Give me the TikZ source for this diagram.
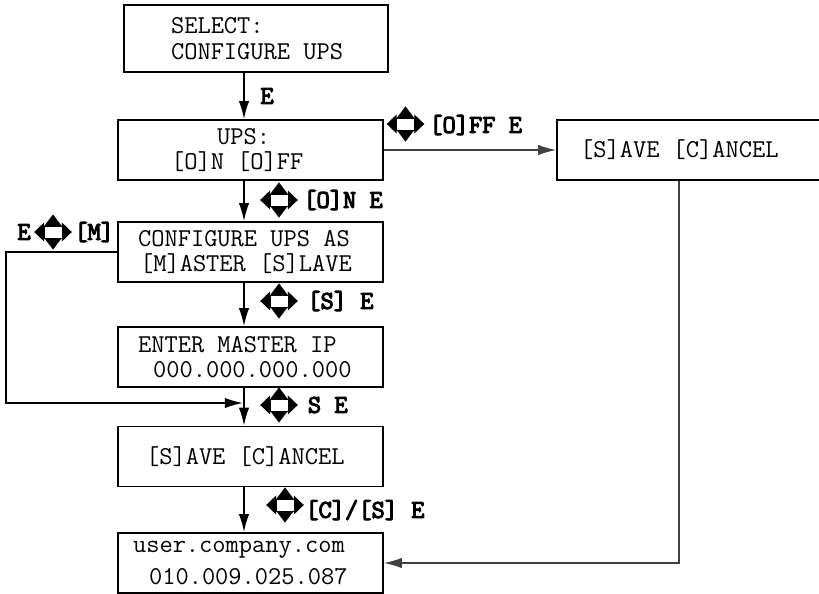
\documentclass[tikz,border=0pt]{standalone}
\usepackage{fontspec}
\newfontfamily\keyfont{lmmono12-regular.otf}[FakeBold=4]
\usepackage{tikz}
\usetikzlibrary{arrows.meta,positioning}
\newcommand{\ind}[1]{\hspace*{#1}}
\newcommand{\fixspace}{\spaceskip=\fontcharwd\font`\0\relax\xspaceskip=\spaceskip}

\begin{document}
\begin{tikzpicture}[
  font=\ttfamily\fontsize{18.3}{18}\selectfont,
  lcd/.style={draw, line width=1.3pt, align=left, inner xsep=2.5mm, inner ysep=0pt,
              text width=61.25mm, minimum height=15mm, execute at begin node=\fixspace},
  key/.style={font=\keyfont\fontsize{18.3}{18}\selectfont, inner sep=0pt},
  a/.style={line width=1.1pt, -{Latex[length=4.5mm,width=2.6mm]}},
  g/.style={line width=0.9pt, draw=black!75, -{Latex[length=4.5mm,width=2.6mm]}},
  pad/.pic={
    \fill (-0.22,0.15) -- (0.22,0.15) -- (0,0.44) -- cycle;
    \fill (-0.22,-0.15) -- (0.22,-0.15) -- (0,-0.44) -- cycle;
    \fill (-0.22,0.24) -- (-0.22,-0.24) -- (-0.47,0) -- cycle;
    \fill (0.22,0.24) -- (0.22,-0.24) -- (0.47,0) -- cycle;
    \filldraw[fill=white, line width=0.4pt] (-0.22,-0.15) rectangle (0.22,0.15);
  }
]
\useasboundingbox (0,0) rectangle (20.475,-14.825);
\clip (0,0) rectangle (20.475,-14.825);

% ---- screens ----
\node[lcd, text width=61mm, minimum height=16.75mm] (sel) at (6.4,-0.9625)
  {\ind{9.25mm}SELECT:\\\ind{9.25mm}CONFIGURE UPS};
\node[lcd] (ups)  at (6.2625,-3.75)    {\ind{22.25mm}UPS:\\\ind{10.75mm}[O]N [O]FF};
\node[lcd] (role) at (6.2625,-6.3)     {\ind{2.5mm}CONFIGURE UPS AS\\\ind{3mm}[M]ASTER [S]LAVE};
\node[lcd] (mip)  at (6.2625,-8.925)   {\ind{2.5mm}ENTER MASTER IP\\\ind{6.25mm}000.000.000.000};
\node[lcd] (save) at (6.2625,-11.4125) {\ind{4.5mm}[S]AVE [C]ANCEL};
\node[lcd] (done) at (6.2625,-14.075)  {\ind{1.25mm}user.company.com\\[5pt]\ind{5.25mm}010.009.025.087};
\node[lcd, text width=65.75mm] (offsave) at (17.4625,-3.75) {\ind{3.25mm}[S]AVE [C]ANCEL};

\coordinate (spine) at (6.1,0);
\coordinate (lx)    at (0.15,0);
\coordinate (join)  at (6.07,-10.075);
\coordinate (drop)  at (16.975,0);

% ---- main line ----
\draw[a] (sel.south -| spine)  -- node[key, right=3.9mm]{E} (ups.north -| spine);
\draw[a] (ups.south -| spine)  -- (role.north -| spine);
\draw[a] (role.south -| spine) -- (mip.north -| spine);
\draw[a] (mip.south -| spine)  -- (save.north -| spine);
\draw[a] (save.south -| spine) -- (done.north -| spine);

% ---- branches ----
\draw[g] (ups.east) -- (offsave.west);
\draw[g] (offsave.south -| drop) |- (done.east);
\draw[a] (role.west) -- (role.west -| lx) |- (join);

% ---- keys ----
\pic at (10.1375,-3.1) {pad};
\node[key, anchor=west] (koff) at (10.725,-3.125) {[O]FF E};
\pic at (6.975,-5.0) {pad};
\node[key, anchor=west] (kon) at (7.575,-5.0) {[O]N E};
\pic at (1.325,-5.8) {pad};
\node[key] (kent) at (0.6,-5.8) {E};
\node[key, anchor=west] (kmas) at (1.85,-5.8) {[M]};
\pic at (6.975,-7.525) {pad};
\node[key, anchor=west] (kslv) at (7.675,-7.525) {[S] E};
\pic at (6.975,-10.125) {pad};
\node[key, anchor=west] (ksav) at (7.69,-10.125) {S E};
\pic at (7.125,-12.625) {pad};
\node[key, anchor=west] (kcs) at (7.625,-12.75) {[C]/[S] E};
\end{tikzpicture}
\end{document}
